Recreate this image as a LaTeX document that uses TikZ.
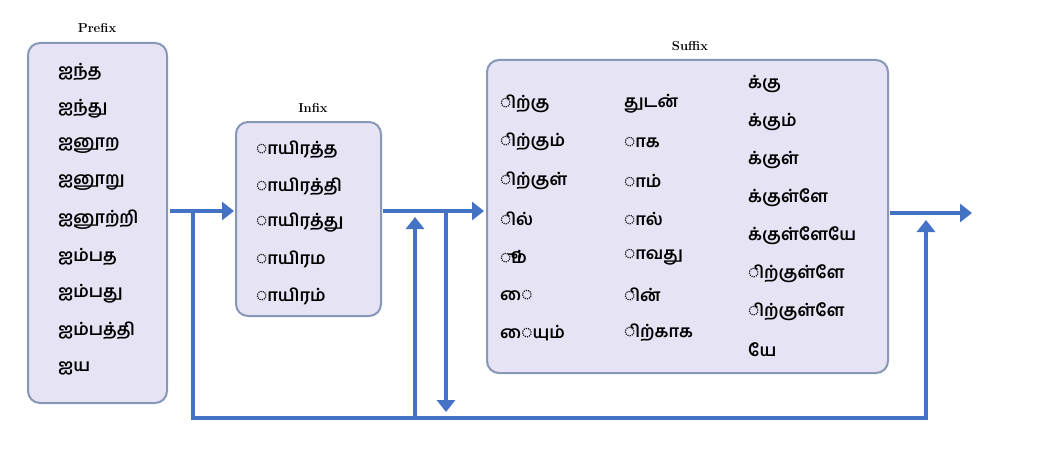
\documentclass[tikz,border=0pt]{standalone}
\usepackage{fontspec}
\newfontfamily\ta[Script=Tamil]{Hind Madurai}
\usetikzlibrary{arrows.meta}
\definecolor{boxfill}{HTML}{E6E4F4}
\definecolor{boxline}{HTML}{8797B8}
\definecolor{arr}{HTML}{4472C4}
\tikzset{
 grp/.style={draw=boxline,line width=2pt,fill=boxfill,rounded corners=12pt},
 ttl/.style={font=\bfseries\fontsize{13}{15}\selectfont},
 tw/.style={anchor=west,font=\ta\bfseries\fontsize{17}{20}\selectfont,inner sep=0pt},
 flow/.style={draw=arr,line width=4pt,-{Triangle[length=12pt,width=18pt]}},
 line/.style={draw=arr,line width=4pt}
}
\begin{document}
\begin{tikzpicture}[x=1pt,y=-1pt]
\useasboundingbox (0,0) rectangle (1054,452);
\draw[grp] (28,43) rectangle (167,403);
\node[ttl] (pt) at (97,28) {Prefix};
\foreach \t [count=\i] in {ஐந்த,ஐந்து,ஐனூற,ஐனூறு,ஐனூற்றி,ஐம்பத,ஐம்பது,ஐம்பத்தி,ஐய}
 \node[tw] (p\i) at (58,{72+(\i-1)*37}) {\t};
\draw[grp] (236,122) rectangle (381,316);
\node[ttl] (it) at (313,108) {Infix};
\foreach \t [count=\i] in {◌ாயிரத்த,◌ாயிரத்தி,◌ாயிரத்து,◌ாயிரம,◌ாயிரம்}
 \node[tw] (i\i) at (256,{150+(\i-1)*36.5}) {\t};
\draw[grp] (487,60) rectangle (888,373);
\node[ttl] (st) at (690,46) {Suffix};
\foreach \t [count=\i] in {◌ிற்கு,◌ிற்கும்,◌ிற்குள்,◌ில்,◌ூம்,◌ை,◌ையும்}
 \node[tw] (a\i) at (500,{104+(\i-1)*38.2}) {\t};
\foreach \t [count=\i] in {துடன்,◌ாக,◌ாம்,◌ால்,◌ாவது,◌ின்,◌ிற்காக}
 \node[tw] (b\i) at (624,{104+(\i-1)*38.2}) {\t};
\foreach \t [count=\i] in {க்கு,க்கும்,க்குள்,க்குள்ளே,க்குள்ளேயே,◌ிற்குள்ளே,◌ிற்குள்ளே,யே}
 \node[tw] (c\i) at (748,{84+(\i-1)*38}) {\t};
\coordinate (o1) at (170,211); \coordinate (e1) at (234,211);
\coordinate (o2) at (383,211); \coordinate (e2) at (484,211);
\coordinate (o3) at (890,213); \coordinate (e3) at (972,213);
\coordinate (d0) at (193,211); \coordinate (d1) at (193,418);
\coordinate (d2) at (926,418); \coordinate (d3) at (926,220);
\coordinate (u0) at (415,418); \coordinate (u1) at (415,217);
\coordinate (v0) at (446,211); \coordinate (v1) at (446,412);
\draw[flow] (o1) -- (e1);
\draw[flow] (o2) -- (e2);
\draw[flow] (o3) -- (e3);
\draw[flow,line join=miter] (d0) -- (d1) -- (d2) -- (d3);
\draw[flow] (u0) -- (u1);
\draw[flow] (v0) -- (v1);
\end{tikzpicture}
\end{document}
